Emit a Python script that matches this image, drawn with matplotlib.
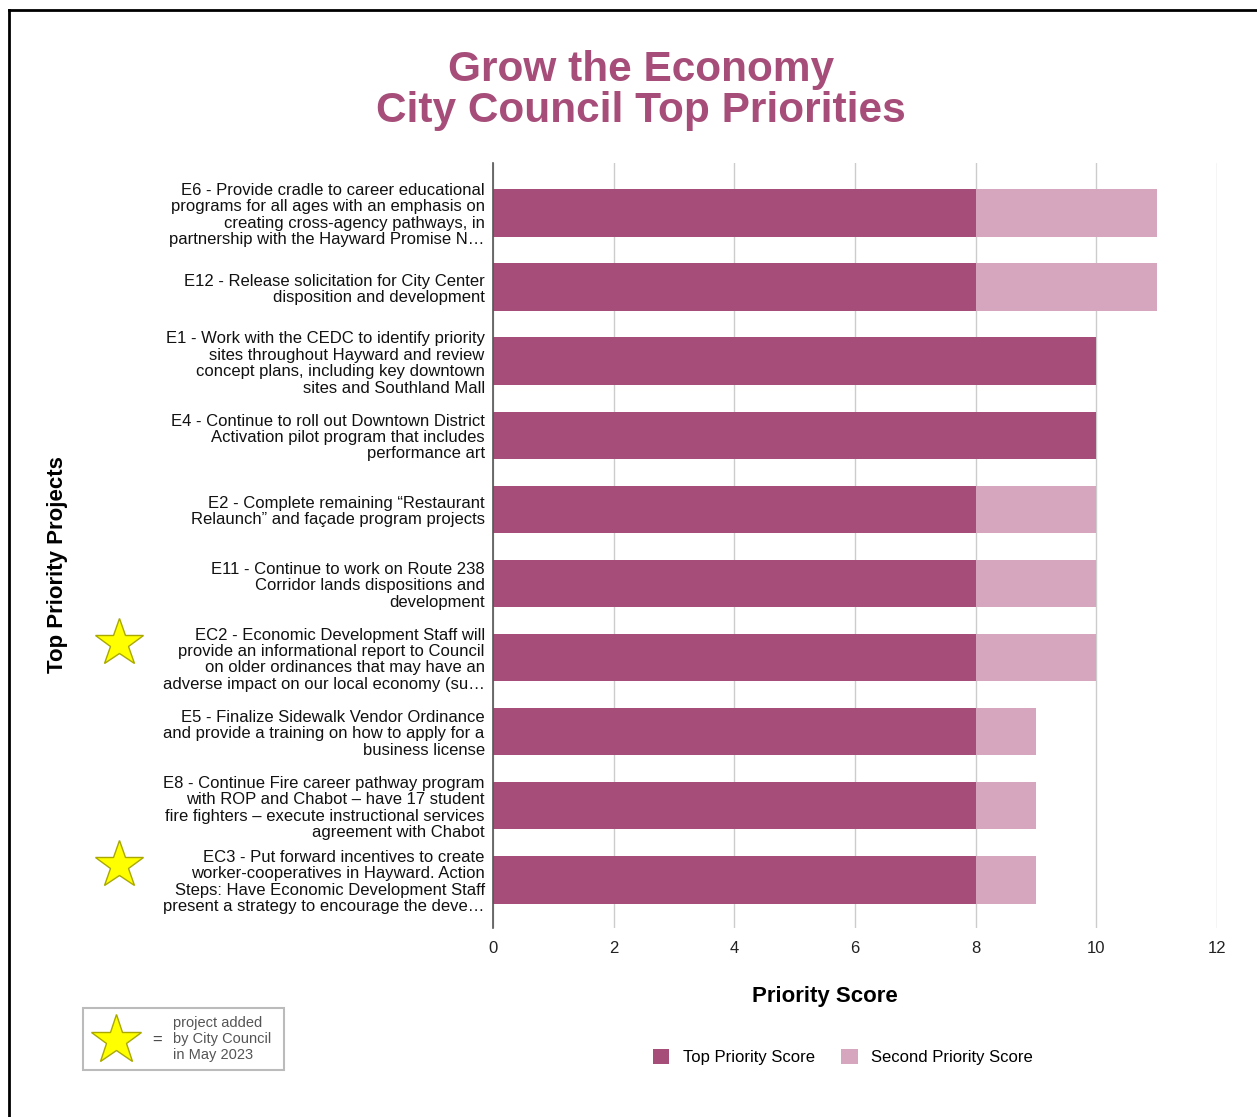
import matplotlib
matplotlib.use("Agg")
import matplotlib.pyplot as plt
from matplotlib.patches import Patch, Rectangle
from matplotlib.lines import Line2D

plt.rcParams['font.family'] = ['Liberation Sans', 'DejaVu Sans']

projects = [
    "E6 - Provide cradle to career educational\nprograms for all ages with an emphasis on\ncreating cross-agency pathways, in\npartnership with the Hayward Promise N\u2026",
    "E12 - Release solicitation for City Center\ndisposition and development",
    "E1 - Work with the CEDC to identify priority\nsites throughout Hayward and review\nconcept plans, including key downtown\nsites and Southland Mall",
    "E4 - Continue to roll out Downtown District\nActivation pilot program that includes\nperformance art",
    "E2 - Complete remaining \u201cRestaurant\nRelaunch\u201d and fa\u00e7ade program projects",
    "E11 - Continue to work on Route 238\nCorridor lands dispositions and\ndevelopment",
    "EC2 - Economic Development Staff will\nprovide an informational report to Council\non older ordinances that may have an\nadverse impact on our local economy (su\u2026",
    "E5 - Finalize Sidewalk Vendor Ordinance\nand provide a training on how to apply for a\nbusiness license",
    "E8 - Continue Fire career pathway program\nwith ROP and Chabot \u2013 have 17 student\nfire fighters \u2013 execute instructional services\nagreement with Chabot",
    "EC3 - Put forward incentives to create\nworker-cooperatives in Hayward. Action\nSteps: Have Economic Development Staff\npresent a strategy to encourage the deve\u2026",
]
top_score = [8, 8, 10, 10, 8, 8, 8, 8, 8, 8]
second_score = [3, 3, 0, 0, 2, 2, 2, 1, 1, 1]
added_by_council = [False, False, False, False, False, False, True, False, False, True]

DARK = "#a64d79"
LIGHT = "#d5a6bd"

fig = plt.figure(figsize=(12.57, 11.17), dpi=100)
ax = fig.add_axes([0.3922, 0.1692, 0.576, 0.6849])

y = list(range(len(projects)))
ax.barh(y, top_score, height=0.64, color=DARK, zorder=3)
ax.barh(y, second_score, left=top_score, height=0.64, color=LIGHT, zorder=3)

ax.set_xlim(0, 12)
ax.set_ylim(len(projects) - 0.35, -0.675)
ax.set_xticks(range(0, 13, 2))
ax.set_yticks(y)
ax.set_yticklabels(projects, fontsize=12, linespacing=1.12, color="#111111")
ax.tick_params(axis='y', length=0, pad=6)
ax.tick_params(axis='x', length=0, pad=9, labelsize=12, labelcolor="#222222")
ax.grid(axis='x', color="#cccccc", linewidth=1, zorder=0)
for side in ['top', 'right', 'bottom']:
    ax.spines[side].set_visible(False)
ax.spines['left'].set_color("#555555")
ax.spines['left'].set_linewidth(1.2)
ax.spines['left'].set_zorder(4)

ax.set_xlabel("Priority Score", fontsize=16, fontweight='bold', va='center')
ax.xaxis.set_label_coords(0.4586, -0.0889)
fig.text(57 / 1257, 1 - 565 / 1117, "Top Priority Projects", rotation=90,
         fontsize=16, fontweight='bold', ha='center', va='center')

fig.text(641 / 1257, 1 - 70 / 1117, "Grow the Economy", fontsize=30.5,
         fontweight='bold', color=DARK, ha='center', va='center')
fig.text(641 / 1257, 1 - 111 / 1117, "City Council Top Priorities", fontsize=30.5,
         fontweight='bold', color=DARK, ha='center', va='center')

# stars next to projects added by council
for yi, added in zip(y, added_by_council):
    if added:
        ax.plot(-6.2, yi - 0.2, marker='*', ms=36, color="#ffff00",
                markeredgecolor="#a8a800", markeredgewidth=1, clip_on=False)

# star key box
fig.add_artist(Rectangle((83 / 1257, 1 - 1070 / 1117), 201 / 1257, 62 / 1117,
                         transform=fig.transFigure, facecolor='white',
                         edgecolor="#bbbbbb", linewidth=1.5))
fig.add_artist(Line2D([116 / 1257], [1 - 1040 / 1117], marker='*', ms=38,
                      color="#ffff00", markeredgecolor="#a8a800",
                      markeredgewidth=1, transform=fig.transFigure))
fig.text(157 / 1257, 1 - 1040 / 1117, "=", fontsize=12, color="#444444",
         ha='center', va='center')
fig.text(173 / 1257, 1 - 1039 / 1117, "project added\nby City Council\nin May 2023",
         fontsize=10.5, color="#555555", ha='left', va='center', linespacing=1.15)

handles = [Patch(facecolor=DARK, label="Top Priority Score"),
           Patch(facecolor=LIGHT, label="Second Priority Score")]
fig.legend(handles=handles, loc='center', bbox_to_anchor=(843 / 1257, 1 - 1057 / 1117),
           ncol=2, frameon=False, fontsize=12, handlelength=1.0, handleheight=1.0,
           columnspacing=1.6, handletextpad=0.8)

# page frame
fig.add_artist(Line2D([9 / 1257, 1], [1 - 10 / 1117, 1 - 10 / 1117],
                      color='black', linewidth=2, transform=fig.transFigure))
fig.add_artist(Line2D([9 / 1257, 9 / 1257], [0, 1 - 10 / 1117],
                      color='black', linewidth=2, transform=fig.transFigure))

fig.savefig("out.png", dpi=100)
